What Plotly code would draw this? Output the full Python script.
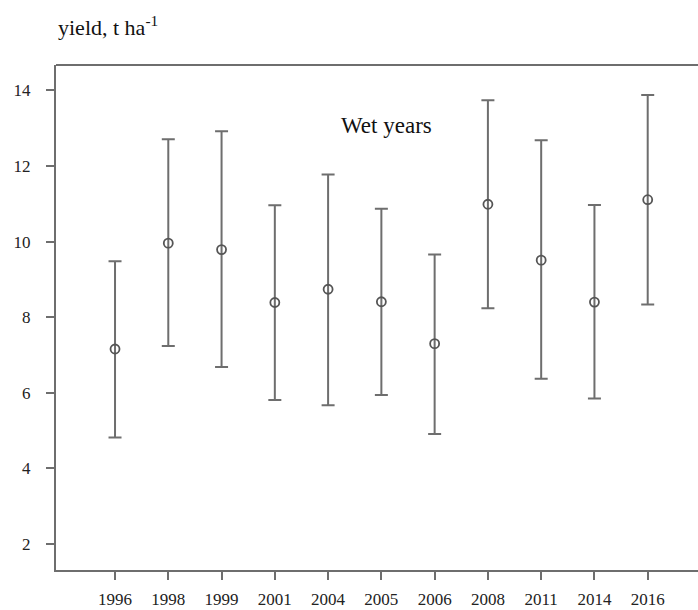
import plotly.graph_objects as go

years = ["1996", "1998", "1999", "2001", "2004", "2005", "2006", "2008", "2011", "2014", "2016"]
mean_yield = [7.16, 9.96, 9.79, 8.39, 8.74, 8.41, 7.30, 10.99, 9.51, 8.40, 11.11]
upper_yield = [9.48, 12.71, 12.92, 10.96, 11.78, 10.87, 9.66, 13.74, 12.68, 10.97, 13.88]
lower_yield = [4.82, 7.24, 6.68, 5.81, 5.67, 5.94, 4.91, 8.24, 6.37, 5.85, 8.34]
y_ticks = [2, 4, 6, 8, 10, 12, 14]

err_plus = [u - m for u, m in zip(upper_yield, mean_yield)]
err_minus = [m - l for m, l in zip(mean_yield, lower_yield)]

GRAY = "#6e6e6e"
FONT = "Liberation Serif"

fig = go.Figure()
fig.add_trace(go.Scatter(
    x=years, y=mean_yield, mode="markers",
    marker=dict(symbol="circle-open", size=9, color="#555555", line=dict(width=1.8, color="#555555")),
    error_y=dict(type="data", symmetric=False, array=err_plus, arrayminus=err_minus,
                 color=GRAY, thickness=2, width=6.5),
    showlegend=False, hoverinfo="skip",
))

fig.update_layout(
    width=698, height=610,
    margin=dict(l=56, r=0, t=65, b=40),
    paper_bgcolor="white", plot_bgcolor="white",
    font=dict(family=FONT, size=17, color="#222222"),
    xaxis=dict(type="category", categoryorder="array", categoryarray=years,
               range=[-1.108, 10.944], showline=True, linecolor=GRAY, linewidth=2,
               ticks="outside", ticklen=8, tickwidth=2, tickcolor=GRAY,
               showgrid=False, zeroline=False, ticklabelstandoff=5,
               tickfont=dict(family=FONT, size=17, color="#222222")),
    yaxis=dict(range=[1.312, 14.674], tickvals=y_ticks, showline=True, linecolor=GRAY, linewidth=2,
               ticks="outside", ticklen=8, tickwidth=2, tickcolor=GRAY,
               showgrid=False, zeroline=False, ticklabelstandoff=12,
               tickfont=dict(family=FONT, size=17, color="#222222")),
    shapes=[dict(type="line", xref="paper", yref="paper", x0=0, x1=1, y0=1, y1=1,
                 line=dict(color=GRAY, width=2))],
    annotations=[
        dict(text="yield, t ha<sup>-1</sup>", xref="paper", yref="paper",
             x=0.0, y=1.078, xanchor="left", yanchor="middle", showarrow=False,
             font=dict(family=FONT, size=22, color="#111111")),
        dict(text="Wet years", xref="x", yref="y", x=4.21, y=13.08,
             xanchor="left", yanchor="middle", showarrow=False,
             font=dict(family=FONT, size=23, color="#111111")),
    ],
)

fig.write_html("out.html")
